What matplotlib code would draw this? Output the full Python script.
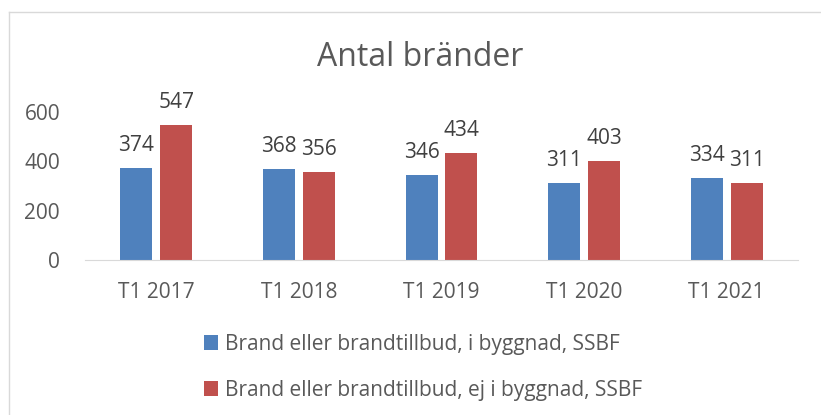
import numpy as np
import matplotlib.pyplot as plt
from matplotlib.lines import Line2D

# data
categories = ["T1 2017", "T1 2018", "T1 2019", "T1 2020", "T1 2021"]
i_byggnad = [374, 368, 346, 311, 334]
ej_i_byggnad = [547, 356, 434, 403, 311]
series_names = ["Brand eller brandtillbud, i byggnad, SSBF",
                "Brand eller brandtillbud, ej i byggnad, SSBF"]

blue = "#4F81BD"
red = "#C0504D"
txt = "#595959"

plt.rcParams["font.family"] = ["Open Sans", "DejaVu Sans"]

fig = plt.figure(figsize=(8.21, 4.15), dpi=100)
ax = fig.add_axes([85 / 821, 1 - 260 / 415, 713 / 821, 148 / 415])

x = np.arange(len(categories))
w = 0.224
off = 0.14
b1 = ax.bar(x - off, i_byggnad, w, color=blue, label=series_names[0])
b2 = ax.bar(x + off, ej_i_byggnad, w, color=red, label=series_names[1])

for bars, vals in ((b1, i_byggnad), (b2, ej_i_byggnad)):
    for b, v in zip(bars, vals):
        ax.text(b.get_x() + b.get_width() / 2, v + 48, str(v), ha="center",
                va="bottom", fontsize=15, color="#404040", clip_on=False)

ax.set_xlim(-0.5, len(categories) - 0.5)
ax.set_ylim(0, 600)
ax.set_yticks([0, 200, 400, 600])
ax.set_xticks(x)
ax.set_xticklabels(categories)
ax.tick_params(length=0, labelsize=15, colors=txt)
ax.tick_params(axis="x", pad=16)
ax.tick_params(axis="y", pad=18)
for s in ["top", "right", "left"]:
    ax.spines[s].set_visible(False)
ax.spines["bottom"].set_color("#d9d9d9")

fig.text(420 / 821, 1 - 58 / 415, "Antal bränder", ha="center", va="center",
         fontsize=23, color=txt)

# legend, two rows under the chart
fig.legend(handles=[b1, b2], loc="center left",
           bbox_to_anchor=(185 / 821, 1 - 367 / 415), frameon=False,
           fontsize=15, labelcolor=txt, handlelength=0.7, handleheight=0.7,
           handletextpad=0.3, labelspacing=1.2)

# chart frame (only top and left edges visible in the crop)
fig.add_artist(Line2D([8.5 / 821, 1], [1 - 12.5 / 415] * 2, color="#d9d9d9", lw=1))
fig.add_artist(Line2D([8.5 / 821] * 2, [0, 1 - 12.5 / 415], color="#d9d9d9", lw=1))

fig.savefig("out.png", dpi=100)
